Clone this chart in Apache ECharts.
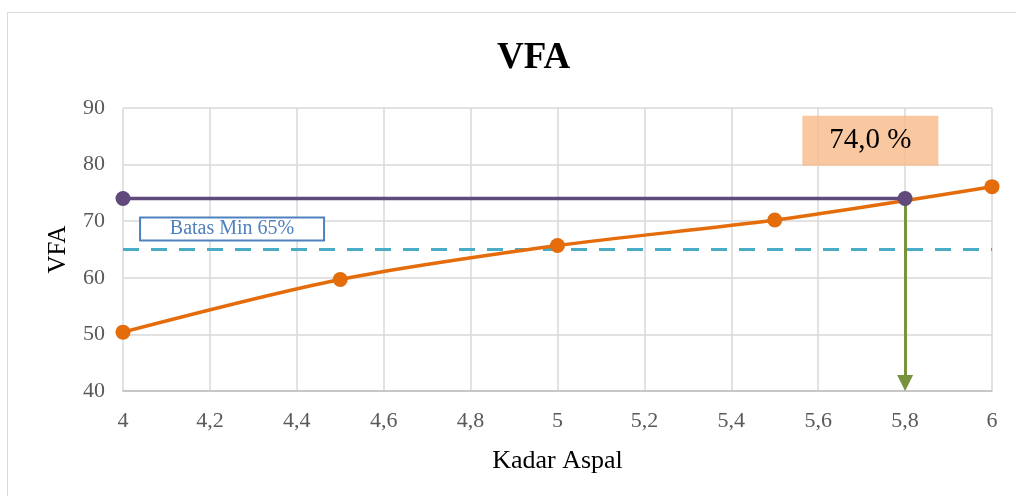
<!DOCTYPE html>
<html><head><meta charset="utf-8">
<script src="https://cdn.jsdelivr.net/npm/echarts@6/dist/echarts.min.js"></script>
<style>
html,body{margin:0;padding:0;background:#fff;overflow:hidden}
#frame{position:absolute;left:7px;top:12px;width:1100px;height:600px;border:1px solid #d9d9d9;box-sizing:border-box}
#chart{position:absolute;left:0;top:0;width:1016px;height:496px}
</style></head>
<body>
<div id="frame"></div>
<div id="chart"></div>
<script>
const kadarAspal = [4, 4.5, 5, 5.5, 6];
const vfaValues = [50.4, 59.7, 65.7, 70.2, 76.1];
const optimumKadar = 5.8;
const optimumVfa = 74.0;
const batasMin = 65;
const yTicks = {min: 40, max: 90, interval: 10};
const xTicks = {min: 4, max: 6, interval: 0.2};

const font = '"Liberation Serif", "Times New Roman", serif';
const chart = echarts.init(document.getElementById('chart'));
chart.setOption({
  animation: false,
  title: {text: 'VFA', left: 492, top: 35, textStyle: {fontFamily: font, fontSize: 37, fontWeight: 'bold', color: '#000'}},
  grid: {left: 123, right: 24, top: 108, bottom: 105},
  xAxis: {
    type: 'value', min: xTicks.min, max: xTicks.max, interval: xTicks.interval,
    name: 'Kadar Aspal', nameLocation: 'middle', nameGap: 57,
    nameTextStyle: {fontFamily: font, fontSize: 26, color: '#000'},
    axisLine: {lineStyle: {color: '#bfbfbf', width: 1.5}},
    axisTick: {show: false},
    axisLabel: {fontFamily: font, fontSize: 22, color: '#595959', margin: 19,
      formatter: v => String(Math.round(v * 10) / 10).replace('.', ',')},
    splitLine: {show: true, lineStyle: {color: '#d9d9d9', width: 1.5}}
  },
  yAxis: {
    type: 'value', min: yTicks.min, max: yTicks.max, interval: yTicks.interval,
    name: 'VFA', nameLocation: 'middle', nameGap: 52, nameRotate: 90,
    nameTextStyle: {fontFamily: font, fontSize: 25, color: '#000'},
    axisLine: {show: false}, axisTick: {show: false},
    axisLabel: {fontFamily: font, fontSize: 22, color: '#595959', margin: 18},
    splitLine: {lineStyle: {color: '#d9d9d9', width: 1.5}}
  },
  series: [
    {
      type: 'line', z: 3,
      data: [[xTicks.min, batasMin], [xTicks.max, batasMin]],
      symbol: 'none',
      lineStyle: {color: '#4bacc6', width: 3, type: [16, 12]},
      markPoint: {
        symbol: 'rect', symbolSize: 1,
        itemStyle: {color: 'rgba(0,0,0,0)'},
        label: {show: true, position: 'inside', formatter: 'Batas Min 65%', fontFamily: font, fontSize: 20, color: '#4f81bd',
          backgroundColor: '#fff', borderColor: '#4f81bd', borderWidth: 2, width: 180, height: 19, align: 'center', verticalAlign: 'middle', lineHeight: 19, padding: [1, 1]},
        data: [{coord: [4.251, 68.6]}]
      }
    },
    {
      type: 'line', z: 4,
      data: kadarAspal.map((x, i) => [x, vfaValues[i]]),
      smooth: 0.3,
      symbol: 'circle', symbolSize: 15,
      lineStyle: {color: '#e46c0a', width: 3.5},
      itemStyle: {color: '#e46c0a'}
    },
    {
      type: 'line', z: 5,
      data: [[xTicks.min, optimumVfa], [optimumKadar, optimumVfa]],
      symbol: 'circle', symbolSize: 15,
      lineStyle: {color: '#604a7b', width: 3.5},
      itemStyle: {color: '#604a7b'},
      markLine: {
        silent: true, symbol: ['none', 'triangle'], symbolSize: [16, 16],
        lineStyle: {color: '#77933c', width: 3, type: 'solid'},
        label: {show: false},
        data: [[{coord: [optimumKadar, optimumVfa]}, {coord: [optimumKadar, yTicks.min + 1.4]}]]
      },
      markPoint: {
        symbol: 'rect', symbolSize: [136, 50],
        itemStyle: {color: 'rgba(248,190,145,0.85)'},
        label: {show: true, formatter: optimumVfa.toFixed(1).replace('.', ',') + ' %', fontFamily: font, fontSize: 29, color: '#000'},
        data: [{coord: [5.72, 84.2]}]
      }
    }
  ]
});
</script>
</body></html>
